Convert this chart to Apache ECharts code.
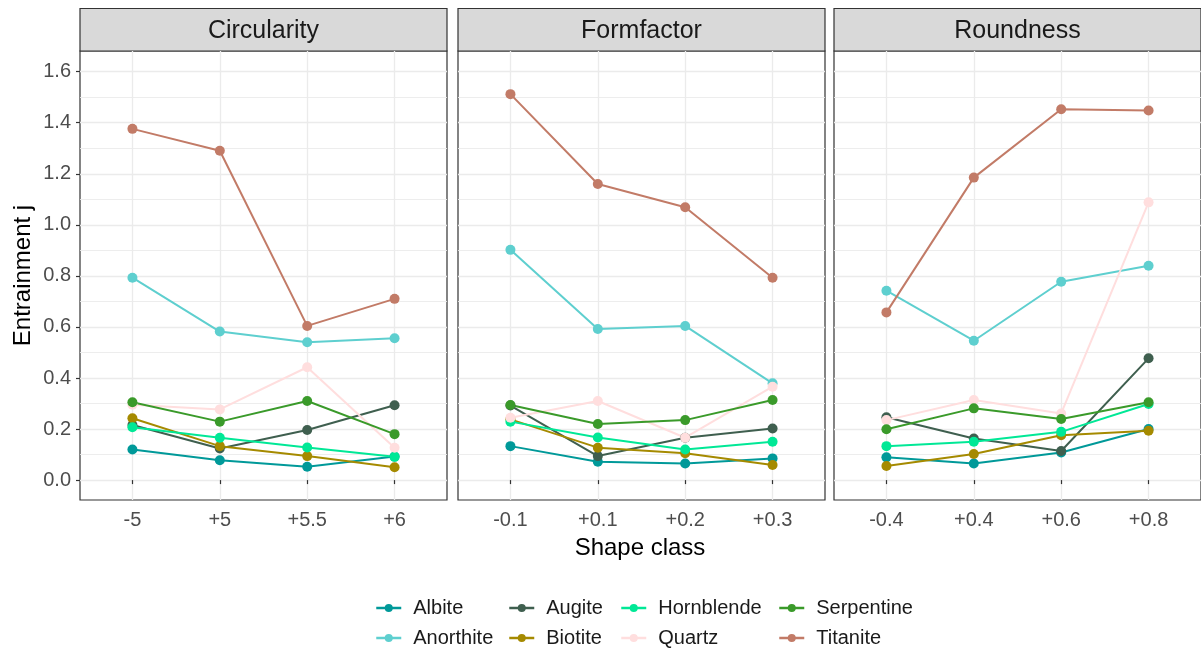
<!DOCTYPE html>
<html>
<head>
<meta charset="utf-8">
<script src="https://cdn.jsdelivr.net/npm/echarts@6/dist/echarts.min.js"></script>
<style>
  html, body { margin: 0; padding: 0; background: #fff; }
  #chart { width: 1201px; height: 650px; }
</style>
</head>
<body>
<div id="chart"></div>
<script>
// facets and their shape classes
var panels = ['Circularity', 'Formfactor', 'Roundness'];
var circularityClasses = ['-5', '+5', '+5.5', '+6'];
var formfactorClasses = ['-0.1', '+0.1', '+0.2', '+0.3'];
var roundnessClasses = ['-0.4', '+0.4', '+0.6', '+0.8'];
var classLabels = [circularityClasses, formfactorClasses, roundnessClasses];

var yTicks = [0, 0.2, 0.4, 0.6, 0.8, 1.0, 1.2, 1.4, 1.6];
var yMinor = [0.1, 0.3, 0.5, 0.7, 0.9, 1.1, 1.3, 1.5];

var minerals = ['Albite', 'Anorthite', 'Augite', 'Biotite', 'Hornblende', 'Quartz', 'Serpentine', 'Titanite'];
var colors = ['#009999', '#5ecfcf', '#3f5f4f', '#a58a00', '#00e896', '#ffdede', '#3a9a2a', '#c27b67'];

// entrainment j per mineral: [circularity], [formfactor], [roundness]
var albite = [[0.120, 0.078, 0.052, 0.092], [0.133, 0.072, 0.065, 0.085], [0.089, 0.065, 0.108, 0.200]];
var anorthite = [[0.793, 0.582, 0.540, 0.556], [0.902, 0.592, 0.604, 0.379], [0.742, 0.546, 0.777, 0.840]];
var augite = [[0.216, 0.124, 0.196, 0.293], [0.292, 0.094, 0.166, 0.202], [0.246, 0.163, 0.114, 0.477]];
var biotite = [[0.242, 0.133, 0.094, 0.050], [0.238, 0.127, 0.105, 0.059], [0.055, 0.102, 0.176, 0.193]];
var hornblende = [[0.207, 0.166, 0.128, 0.091], [0.229, 0.167, 0.120, 0.150], [0.133, 0.150, 0.189, 0.298]];
var quartz = [[0.295, 0.277, 0.442, 0.127], [0.244, 0.310, 0.166, 0.366], [0.235, 0.314, 0.261, 1.088]];
var serpentine = [[0.305, 0.229, 0.310, 0.180], [0.294, 0.220, 0.235, 0.314], [0.199, 0.281, 0.239, 0.305]];
var titanite = [[1.376, 1.290, 0.604, 0.710], [1.512, 1.160, 1.069, 0.793], [0.657, 1.185, 1.453, 1.448]];
var values = [albite, anorthite, augite, biotite, hornblende, quartz, serpentine, titanite];

var font = '"Liberation Sans", Arial, sans-serif';
var panelLeft = [80, 458, 834];
var panelWidth = 367;
var panelTop = 51;
var panelHeight = 449;

var grids = [], xAxes = [], yAxes = [], series = [], graphics = [];

for (var p = 0; p < panels.length; p++) {
    grids.push({
        left: panelLeft[p], top: panelTop, width: panelWidth, height: panelHeight,
        show: true, backgroundColor: '#fff', borderColor: '#333', borderWidth: 1.2
    });
    (function (labels) {
        xAxes.push({
            type: 'value', gridIndex: p, min: 0.4, max: 4.6,
            axisLine: { show: false },
            axisTick: { show: true, length: 4, lineStyle: { color: '#333', width: 1.2 }, customValues: [1, 2, 3, 4] },
            axisLabel: {
                customValues: [1, 2, 3, 4], margin: 10,
                color: '#4d4d4d', fontSize: 20, fontFamily: font,
                formatter: function (v) { return labels[Math.round(v) - 1]; }
            },
            splitLine: { show: true, lineStyle: { color: '#ebebeb', width: 1.3 } }
        });
    })(classLabels[p]);
    // major grid + labels
    yAxes.push({
        type: 'value', gridIndex: p, min: -0.078, max: 1.681,
        name: p === 0 ? 'Entrainment j' : '',
        nameLocation: 'middle', nameGap: 45, nameRotate: 90,
        nameTextStyle: { color: '#000', fontSize: 24, fontFamily: font },
        axisLine: { show: false },
        axisTick: { show: p === 0, length: 4, lineStyle: { color: '#333', width: 1.2 }, customValues: yTicks },
        axisLabel: {
            show: p === 0, customValues: yTicks, margin: 9,
            color: '#4d4d4d', fontSize: 20, fontFamily: font,
            formatter: function (v) { return v.toFixed(1); }
        },
        splitLine: { show: true, lineStyle: { color: '#ebebeb', width: 1.3 } }
    });
    // minor grid
    yAxes.push({
        type: 'value', gridIndex: p, min: -0.078, max: 1.681,
        axisLine: { show: false },
        axisTick: { show: false, customValues: yMinor },
        axisLabel: { show: false, customValues: yMinor },
        splitLine: { show: true, lineStyle: { color: '#ebebeb', width: 0.9 } }
    });

    for (var m = 0; m < minerals.length; m++) {
        var pts = [];
        for (var i = 0; i < 4; i++) pts.push([i + 1, values[m][p][i]]);
        series.push({
            name: minerals[m], type: 'line',
            xAxisIndex: p, yAxisIndex: p * 2,
            data: pts,
            symbol: 'circle', symbolSize: 10,
            itemStyle: { color: colors[m] },
            lineStyle: { color: colors[m], width: 2 },
            emphasis: { disabled: true },
            animation: false
        });
    }

    // strip
    graphics.push({
        type: 'rect',
        shape: { x: panelLeft[p], y: 8.5, width: panelWidth, height: 42.5 },
        style: { fill: '#d9d9d9', stroke: '#333', lineWidth: 1.2 }
    });
    graphics.push({
        type: 'text',
        x: panelLeft[p] + panelWidth / 2, y: 31,
        style: { text: panels[p], fill: '#1a1a1a', font: '25px ' + font, textAlign: 'center', textVerticalAlign: 'middle' }
    });
}

graphics.push({
    type: 'text', x: 640, y: 548,
    style: { text: 'Shape class', fill: '#000', font: '24px ' + font, textAlign: 'center', textVerticalAlign: 'middle' }
});

// legend: 4 columns x 2 rows, filled column by column
var legendLeft = [375, 375, 508, 508, 620, 620, 778, 778];
var legendTop = [598, 628, 598, 628, 598, 628, 598, 628];
var legends = minerals.map(function (name, k) {
    return {
        data: [name], orient: 'horizontal', left: legendLeft[k], top: legendTop[k],
        itemWidth: 25, itemHeight: 10, padding: 0,
        lineStyle: { width: 2.5 },
        textStyle: { color: '#1a1a1a', fontSize: 20, fontFamily: font, padding: [0, 0, 0, 7] }
    };
});

var myChart = echarts.init(document.getElementById('chart'), null, { renderer: 'canvas' });
myChart.setOption({
    animation: false,
    color: colors,
    grid: grids,
    xAxis: xAxes,
    yAxis: yAxes,
    legend: legends,
    series: series,
    graphic: graphics
});
</script>
</body>
</html>
